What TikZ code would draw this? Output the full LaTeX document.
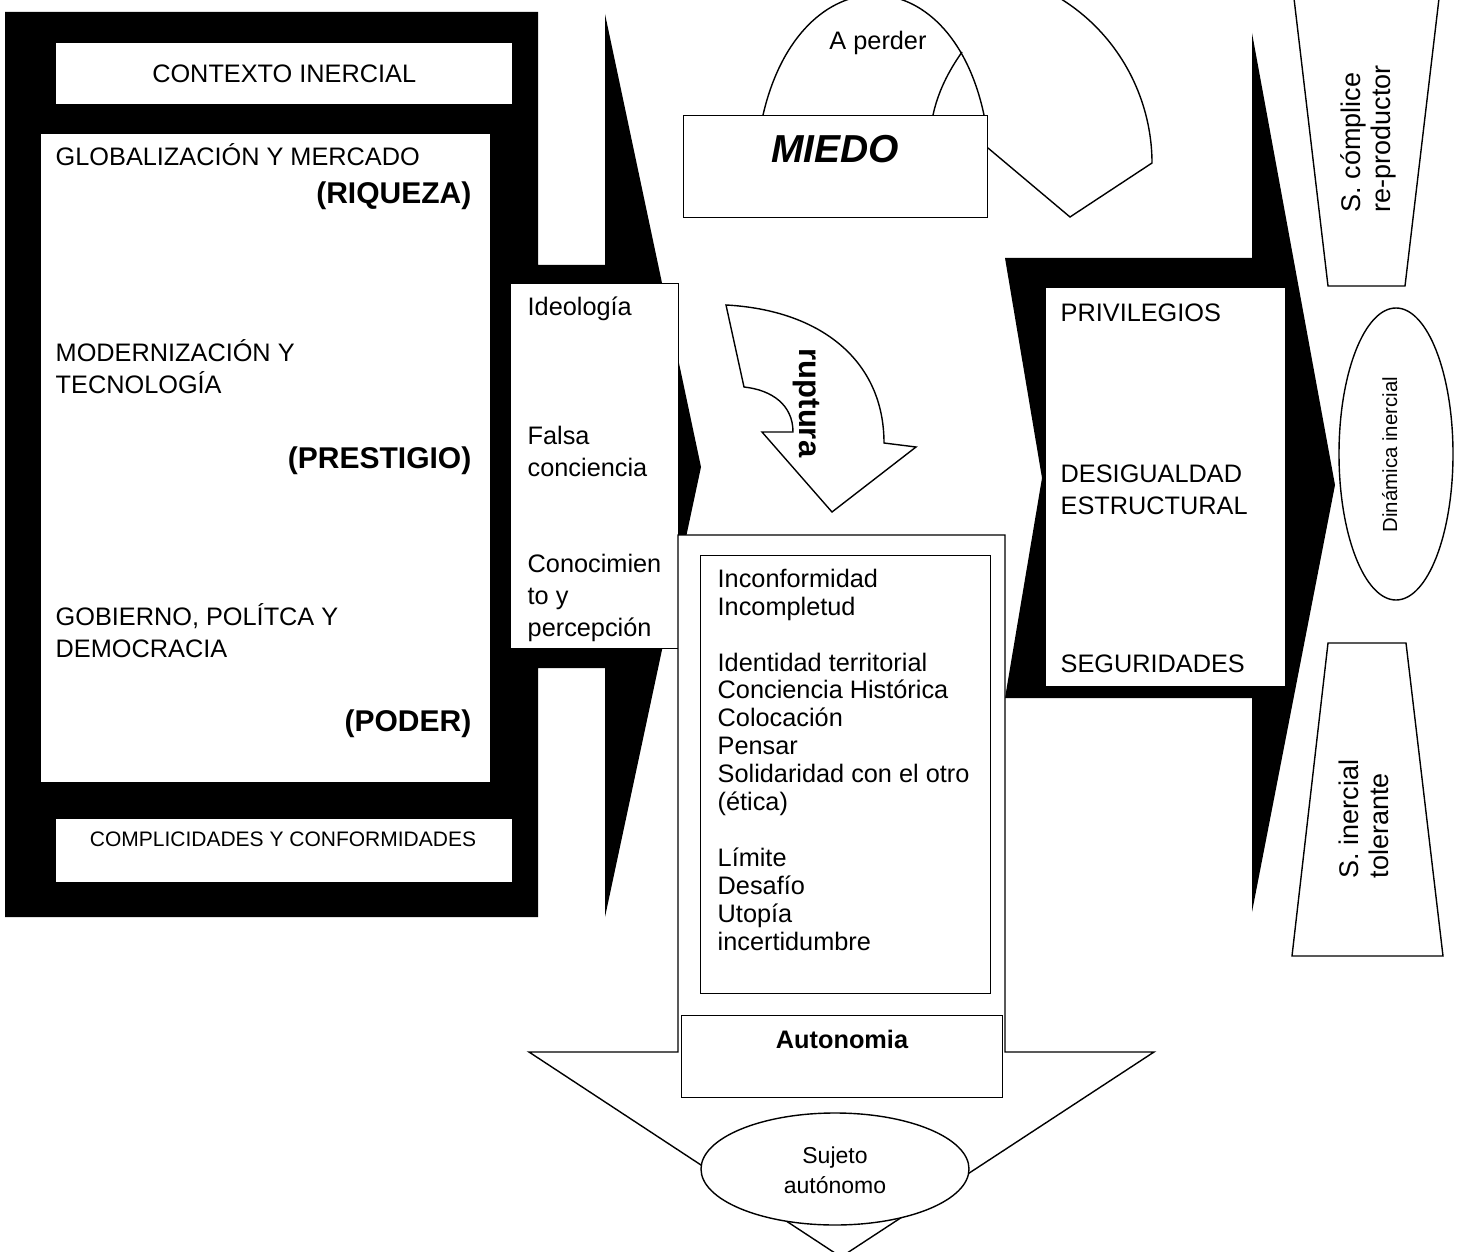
\documentclass[tikz,border=0pt]{standalone}
\usepackage{fontspec}
\setmainfont{Liberation Sans}
\usetikzlibrary{shapes.geometric, positioning}

\begin{document}
\begin{tikzpicture}[x=1pt, y=-1pt, line width=1.4pt,
    box/.style={draw, fill=white, inner sep=0pt, anchor=north west},
    txt/.style={inner sep=0pt, align=left, font=\fontsize{25.3}{32}\selectfont},
    big/.style={inner sep=0pt, font=\fontsize{30}{36}\selectfont\bfseries},
    vtxt/.style={inner sep=0pt, align=left, rotate=90, anchor=base west, font=\fontsize{27}{30}\selectfont},
    oval/.style={draw, fill=white, ellipse, inner sep=0pt}]
\useasboundingbox (0,0) rectangle (1465,1252);

% black arrows
\fill (5,12) -- (538,12) -- (538,265) -- (605,265) -- (605,14) -- (701,467) -- (605,917)
      -- (605,668) -- (538,668) -- (538,917) -- (5,917) -- cycle;
\fill (1005,258) -- (1252,258) -- (1252,33) -- (1335,485) -- (1252,912) -- (1252,698)
      -- (1005,698) -- (1042,478) -- cycle;

% left column
\node[box, minimum width=457, minimum height=62] (ctx) at (55,42) {};
\node[txt] (ctxt) at (ctx.center) {CONTEXTO INERCIAL};
\node[box, minimum width=450, minimum height=649] (mainbox) at (40,133) {};
\node[txt, anchor=base west] (glob) at (55,166) {GLOBALIZACIÓN Y MERCADO};
\node[big, anchor=base east] (riq) at (472,204) {(RIQUEZA)};
\node[txt, anchor=base west] (modern) at (55,393) {MODERNIZACIÓN Y\\TECNOLOGÍA};
\node[big, anchor=base east] (prest) at (472,468) {(PRESTIGIO)};
\node[txt, anchor=base west] (gob) at (55,657) {GOBIERNO, POLÍTCA Y\\DEMOCRACIA};
\node[big, anchor=base east] (poder) at (472,731) {(PODER)};
\node[box, minimum width=457, minimum height=64] (complbox) at (55,818) {};
\node[inner sep=0pt, anchor=base, font=\fontsize{21}{25}\selectfont] (compl) at (283,846)
     {COMPLICIDADES Y CONFORMIDADES};

% ideology box
\node[box, minimum width=168, minimum height=365] (ideobox) at (510,283) {};
\node[txt, anchor=base west] (ideo) at (527,316) {Ideología};
\node[txt, anchor=base west] (falsa) at (527,476) {Falsa\\conciencia};
\node[txt, anchor=base west] (conoc) at (527,636) {Conocimien\\to y\\percepción};

% fear
\draw (763,115) .. controls (800,-45) and (950,-45) .. (984,115);
\draw (962,52) .. controls (948,72) and (938,92) .. (933,115);
\draw (1045,-10) .. controls (1115,25) and (1152,95) .. (1152,163) -- (1070,217) -- (988,148);
\node[txt, anchor=base] (perder) at (878,50) {A perder};
\node[box, minimum width=304, minimum height=102] (miedobox) at (683,115) {};
\node[inner sep=0pt, anchor=base, font=\fontsize{39}{44}\selectfont\bfseries\itshape] (miedo)
     at (835,163) {MIEDO};

% ruptura
\filldraw[fill=white] (726,305) .. controls (820,310) and (884,360) .. (884,443) -- (916,447)
      -- (832,512) -- (762,432) -- (793,432) .. controls (793,405) and (772,390) .. (744,387) -- cycle;
\node[inner sep=0pt, rotate=-90, font=\fontsize{31}{34}\selectfont\bfseries] (rupt) at (806,403) {ruptura};

% down arrow
\filldraw[fill=white] (678,535) -- (1005,535) -- (1005,1052) -- (1154,1052) -- (841,1257)
      -- (529,1052) -- (678,1052) -- cycle;
\node[box, minimum width=290, minimum height=438] (listbox) at (700,555) {};
\node[inner sep=0pt, align=left, anchor=base west, font=\fontsize{25.3}{27.9}\selectfont] (lista)
     at (717,950) {Inconformidad\\Incompletud\\[27.9pt]Identidad territorial\\Conciencia Histórica\\
     Colocación\\Pensar\\Solidaridad con el otro\\(ética)\\[27.9pt]Límite\\Desafío\\Utopía\\incertidumbre};
\node[box, minimum width=321, minimum height=82] (autobox) at (681,1015) {};
\node[inner sep=0pt, anchor=base, font=\fontsize{25.3}{30}\selectfont\bfseries] (auto) at (842,1048) {Autonomia};
\node[oval, minimum width=268, minimum height=112] (sujeto) at (835,1169) {};
\node[inner sep=0pt, align=center, anchor=base, font=\fontsize{23}{30}\selectfont] (sujt) at (835,1193)
     {Sujeto\\autónomo};

% right side
\node[box, minimum width=240, minimum height=399] (privbox) at (1045,287) {};
\node[txt, anchor=base west] (priv) at (1060,321) {PRIVILEGIOS};
\node[txt, anchor=base west] (desig) at (1060,514) {DESIGUALDAD\\ESTRUCTURAL};
\node[txt, anchor=base west] (segur) at (1060,672) {SEGURIDADES};

\draw (1293,-10) -- (1328,286) -- (1405,286) -- (1440,-10);
\node[vtxt] (compl2) at (1390,213) {S. cómplice\\re-productor};
\node[oval, minimum width=114, minimum height=292] (dinam) at (1396,454) {};
\node[inner sep=0pt, rotate=90, anchor=base west, font=\fontsize{20.4}{24}\selectfont] (dint)
     at (1397,533) {Dinámica inercial};
\draw (1328,643) -- (1406,643) -- (1443,956) -- (1292,956) -- cycle;
\node[vtxt] (toler) at (1388,879) {S. inercial\\tolerante};
\end{tikzpicture}
\end{document}
